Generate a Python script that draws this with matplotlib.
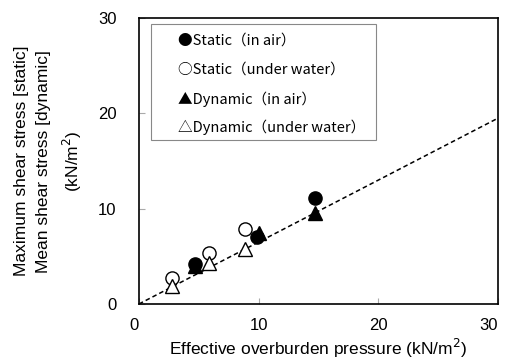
import matplotlib.pyplot as plt
import numpy as np

plt.rcParams['font.family'] = ['Liberation Sans', 'Noto Sans CJK JP']

# effective overburden pressure (kN/m2) vs shear stress (kN/m2)
static_air_x = [4.7, 9.9, 14.7]
static_air_y = [4.2, 7.0, 11.1]
static_water_x = [2.8, 5.9, 8.9]
static_water_y = [2.7, 5.4, 7.9]
dynamic_air_x = [4.7, 10.0, 14.7]
dynamic_air_y = [4.0, 7.4, 9.6]
dynamic_water_x = [2.8, 5.9, 8.9]
dynamic_water_y = [1.9, 4.3, 5.8]

fit_x = [0, 30]
fit_y = [0, 19.5]

ticks = [0, 10, 20, 30]
legend_lines = ["●Static（in air）", "○Static（under water）",
                "▲Dynamic（in air）", "△Dynamic（under water）"]

fig = plt.figure(figsize=(5.05, 3.63), dpi=100)
ax = fig.add_axes([0.275, 0.1625, 0.711, 0.7875])

ax.plot(fit_x, fit_y, ls=(0, (3, 2)), color='k', lw=1.1, zorder=1)

ms = 9.5
ax.plot(static_air_x, static_air_y, 'o', ms=ms, mfc='k', mec='k', zorder=3)
ax.plot(static_water_x, static_water_y, 'o', ms=ms, mfc='white', mec='k', mew=1, zorder=2)
ax.plot(dynamic_air_x, dynamic_air_y, '^', ms=ms, mfc='k', mec='k', zorder=3)
ax.plot(dynamic_water_x, dynamic_water_y, '^', ms=ms, mfc='white', mec='k', mew=1, zorder=2)

ax.set_xlim(0, 30)
ax.set_ylim(0, 30)
ax.set_xticks(ticks)
ax.set_yticks(ticks)
ax.tick_params(direction='in', length=4, color='#aaaaaa', labelsize=12)
ax.tick_params(axis='x', pad=10)
ax.tick_params(axis='y', pad=16)
# end labels sit flush with the axis ends
xl = ax.get_xticklabels()
xl[0].set_ha('right')
xl[-1].set_ha('right')
for s in ax.spines.values():
    s.set_linewidth(1.2)

ax.set_xlabel("Effective overburden pressure (kN/m$^2$)", fontsize=12.5, labelpad=3)
ax.set_ylabel("Maximum shear stress [static]\nMean shear stress [dynamic]\n(kN/m$^2$)",
              fontsize=12.5, labelpad=10, linespacing=1.55)

# legend drawn as a framed text box
box = plt.Rectangle((0.033, 0.573), 0.627, 0.406, transform=ax.transAxes,
                    fill=True, facecolor='white', edgecolor='#888888', lw=0.8, zorder=4)
ax.add_patch(box)
for i, t in enumerate(legend_lines):
    ax.text(0.108, 0.92 - i * 0.101, t, transform=ax.transAxes, fontsize=10.5,
            family='Noto Sans CJK JP', va='center', ha='left', zorder=5)

fig.savefig("out.png", dpi=100)
